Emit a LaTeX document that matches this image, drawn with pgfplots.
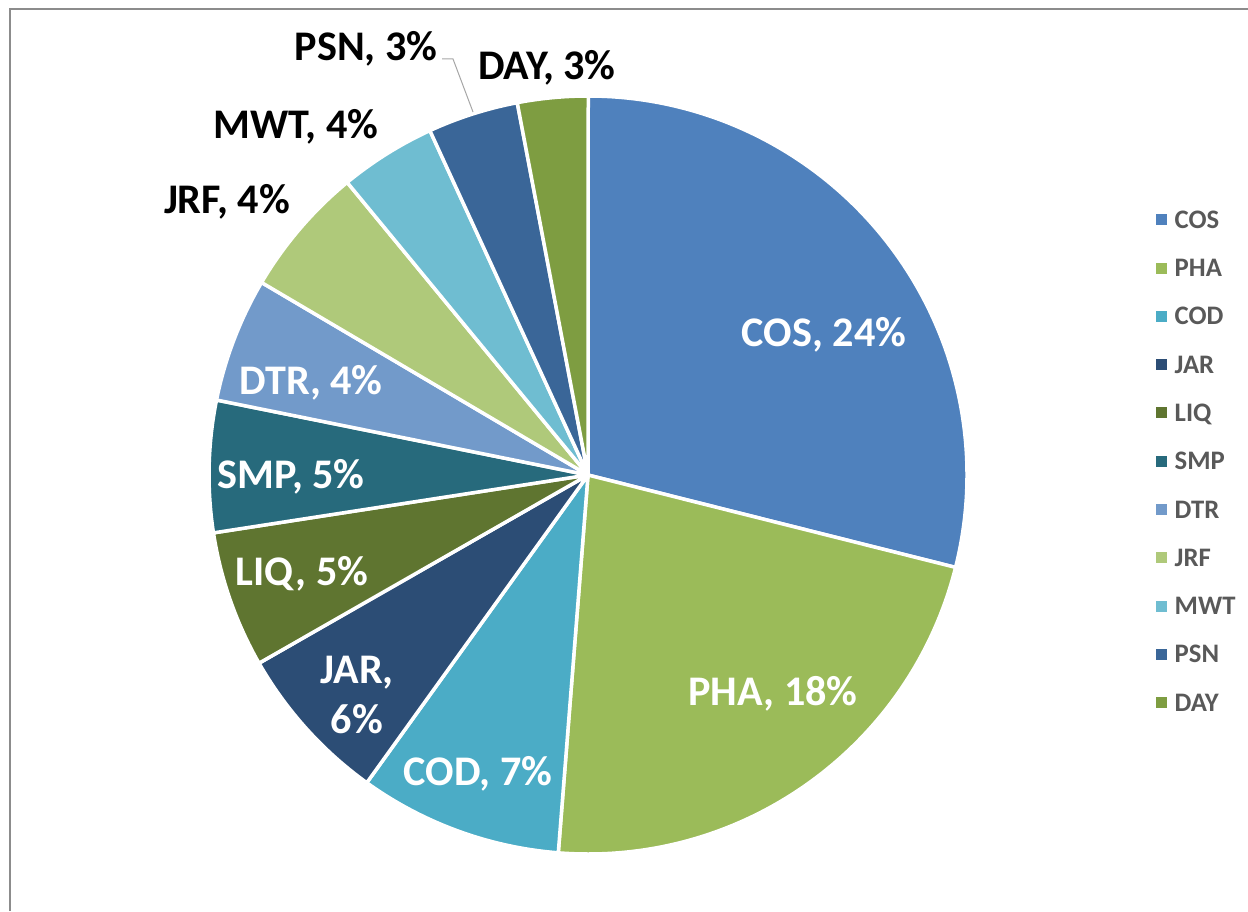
\documentclass[border=0pt]{standalone}
\usepackage{fontspec}
\setmainfont{Carlito}
\usepackage{pgfplots}
\usepackage{pgfplotstable}
\pgfplotsset{compat=1.18}

\definecolor{cCOS}{HTML}{4F81BD}
\definecolor{cPHA}{HTML}{9BBB59}
\definecolor{cCOD}{HTML}{4BACC6}
\definecolor{cJAR}{HTML}{2C4D75}
\definecolor{cLIQ}{HTML}{5F7530}
\definecolor{cSMP}{HTML}{276A7C}
\definecolor{cDTR}{HTML}{729ACA}
\definecolor{cJRF}{HTML}{AFC97A}
\definecolor{cMWT}{HTML}{6FBDD1}
\definecolor{cPSN}{HTML}{3A6698}
\definecolor{cDAY}{HTML}{7E9D41}
\definecolor{legendgray}{HTML}{595959}
\definecolor{framegray}{HTML}{8C8C8C}

% share of the circle, in percent, clockwise from the top
\pgfplotstableread{
name value
COS 28.92
PHA 22.33
COD 8.67
JAR 6.81
LIQ 5.83
SMP 5.61
DTR 5.31
JRF 5.56
MWT 4.11
PSN 3.86
DAY 3.00
}\piedata

\pgfplotsset{
  legend image code/.code={\fill[#1, draw=none] (0mm,-0.55mm) rectangle (1.1mm,0.55mm);},
}
\tikzset{lbl/.style={anchor=base, font=\fontsize{12}{14}\selectfont\bfseries}}

\begin{document}
\begin{tikzpicture}
\begin{axis}[
  x=0.1mm, y=0.1mm,
  xmin=0, xmax=1248, ymin=0, ymax=911,
  at={(0,0)}, anchor=south west,
  hide axis, clip=false,
  legend cell align=left,
  legend style={
    at={(axis cs:1155,700.5)}, anchor=north west,
    draw=none, fill=none, inner sep=0pt,
    row sep=3.13mm,
    nodes={inner sep=0pt, text height=1.7mm, text depth=0pt,
      font=\fontsize{7.6}{9}\selectfont\bfseries, text=legendgray},
    /tikz/every odd column/.append style={column sep=0.8mm},
  },
]
\pgfplotstablegetrowsof{\piedata}
\pgfmathtruncatemacro\lastrow{\pgfplotsretval-1}
\def\cum{0}
\pgfplotsforeachungrouped \i in {0,...,\lastrow}{%
  \pgfplotstablegetelem{\i}{value}\of\piedata
  \let\val\pgfplotsretval
  \pgfplotstablegetelem{\i}{name}\of\piedata
  \let\nm\pgfplotsretval
  \pgfmathsetmacro\angA{90-3.6*\cum}
  \pgfmathsetmacro\angB{90-3.6*(\cum+\val)}
  \edef\slice{\noexpand\filldraw[fill=c\nm, draw=white, line width=0.35mm, line join=round]
    (axis cs:588,436) -- ++(\angA:37.9mm)
    arc[start angle=\angA, end angle=\angB, radius=37.9mm] -- cycle;}
  \slice
  \pgfmathsetmacro\cum{\cum+\val}
}

\addlegendimage{fill=cCOS}\addlegendentry{COS}
\addlegendimage{fill=cPHA}\addlegendentry{PHA}
\addlegendimage{fill=cCOD}\addlegendentry{COD}
\addlegendimage{fill=cJAR}\addlegendentry{JAR}
\addlegendimage{fill=cLIQ}\addlegendentry{LIQ}
\addlegendimage{fill=cSMP}\addlegendentry{SMP}
\addlegendimage{fill=cDTR}\addlegendentry{DTR}
\addlegendimage{fill=cJRF}\addlegendentry{JRF}
\addlegendimage{fill=cMWT}\addlegendentry{MWT}
\addlegendimage{fill=cPSN}\addlegendentry{PSN}
\addlegendimage{fill=cDAY}\addlegendentry{DAY}

% data labels
\node[lbl, white] at (axis cs:824,564.5) {COS, 24\%};
\node[lbl, white] at (axis cs:773,205.5) {PHA, 18\%};
\node[lbl, white] at (axis cs:478,125.5) {COD, 7\%};
\node[lbl, white] at (axis cs:357,227.5) {JAR,};
\node[lbl, white] at (axis cs:357,177.5) {6\%};
\node[lbl, white] at (axis cs:302,325.5) {LIQ, 5\%};
\node[lbl, white] at (axis cs:291,422.5) {SMP, 5\%};
\node[lbl, white] at (axis cs:311,516.5) {DTR, 4\%};
\node[lbl, black] at (axis cs:227,697.5) {JRF, 4\%};
\node[lbl, black] at (axis cs:296,772.5) {MWT, 4\%};
\node[lbl, black] at (axis cs:366,850.5) {PSN, 3\%};
\node[lbl, black] at (axis cs:547,831.5) {DAY, 3\%};
\draw[gray!70, line width=0.1mm] (axis cs:442,852) -- (axis cs:453,852) -- (axis cs:473,799);
\end{axis}
\draw[framegray, line width=0.2mm] (0.95mm,0) -- (0.95mm,90.25mm) -- (124.8mm,90.25mm);
\pgfresetboundingbox
\useasboundingbox (0,0) rectangle (124.8mm,91.1mm);
\end{tikzpicture}
\end{document}
